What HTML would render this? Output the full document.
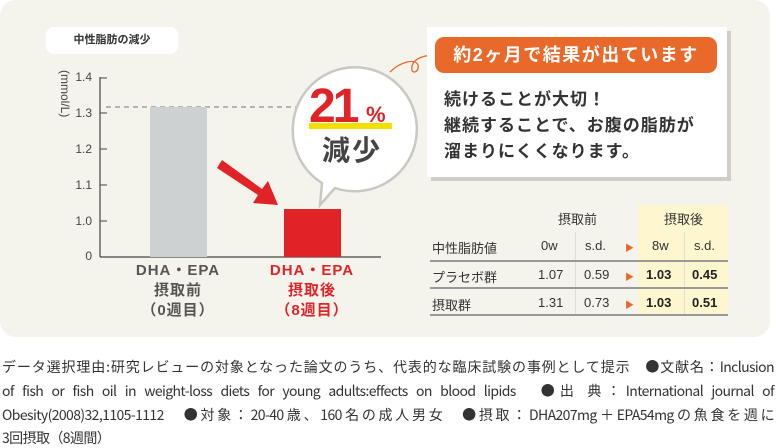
<!DOCTYPE html>
<html><head><meta charset="utf-8"><style>
body{margin:0;width:776px;height:446px;background:#fff;overflow:hidden;font-family:"Liberation Sans","Noto Sans CJK JP",sans-serif;position:relative}
.a{position:absolute}
.panel{left:0;top:0;width:770px;height:337px;background:#f4f3ec;border-radius:16px}
.tk{font-size:12px;color:#444;width:30px;text-align:right;left:62px}
.xl{font-size:15px;font-weight:bold;text-align:center;line-height:20px;width:120px;letter-spacing:1px}
.ft{left:2px;width:772px;font-family:"Liberation Sans Narrow","Noto Sans CJK JP",sans-serif;font-size:14px;color:#333;text-align:justify;text-align-last:justify;white-space:nowrap;letter-spacing:-0.6px}
</style></head><body>
<div class="a panel"></div>
<div class="a" style="left:46px;top:27px;width:132px;height:27px;background:#fff;border-radius:8px;font-size:11px;font-weight:bold;color:#333;line-height:27px;text-align:center">中性脂肪の減少</div>
<svg class="a" style="left:0;top:0" width="776" height="340">
<line x1="100" y1="77" x2="100" y2="257" stroke="#444" stroke-width="1.2"/>
<line x1="100" y1="257" x2="381" y2="257" stroke="#444" stroke-width="1.2"/>
<g stroke="#444"><line x1="100" y1="78" x2="107" y2="78"/><line x1="100" y1="113" x2="107" y2="113"/><line x1="100" y1="149" x2="107" y2="149"/><line x1="100" y1="185" x2="107" y2="185"/><line x1="100" y1="221" x2="107" y2="221"/></g>
<line x1="106" y1="107" x2="300" y2="107" stroke="#777" stroke-dasharray="5,4"/>
<rect x="150" y="107" width="57" height="150" fill="#cdd1d2"/>
<rect x="284" y="209" width="57" height="48" fill="#e02327"/>
<polygon points="217,168 222,160 262,189 268,181 278,205 253,203 258,195" fill="#e02327"/>
<path d="M390,72 C400,62 415,58 418,65 C420,72 410,76 412,66 C414,58 425,55 436,55" fill="none" stroke="#e8692a" stroke-width="1.3"/>
<path d="M293,125 A62,62 0 1 1 335,188 L320,205 L322,183 A62,62 0 0 1 293,125Z" fill="#fff" stroke="#c9c8c2" stroke-width="2.5"/>
<rect x="309" y="123" width="83" height="6" fill="#f4e000"/>
<text x="309" y="122" font-size="48" font-weight="bold" fill="#e02327" font-family="Liberation Sans,sans-serif" letter-spacing="-3">21</text>
<text x="366" y="122" font-size="22" font-weight="bold" fill="#e02327" font-family="Liberation Sans,sans-serif">%</text>
<text x="322" y="160" font-size="28" font-weight="bold" fill="#444" font-family="Liberation Sans,Noto Sans CJK JP,sans-serif" letter-spacing="2">減少</text>
<rect x="431" y="31" width="300" height="150" fill="#cfcdc6"/>
<rect x="427" y="27" width="300" height="150" fill="#fff"/>
<rect x="435" y="37" width="282" height="36" rx="9" fill="#e8692a"/>
</svg>
<div class="a" style="top:70px;transform:rotate(90deg);transform-origin:0 0;font-size:12px;color:#444;white-space:nowrap;left:72px">(mmol/L)</div>
<div class="a tk" style="top:70px">1.4</div>
<div class="a tk" style="top:106px">1.3</div>
<div class="a tk" style="top:142px">1.2</div>
<div class="a tk" style="top:178px">1.1</div>
<div class="a tk" style="top:214px">1.0</div>
<div class="a tk" style="top:249px">0</div>
<div class="a xl" style="left:118px;top:261px;color:#555">DHA・EPA<br>摂取前<br>（0週目）</div>
<div class="a xl" style="left:252px;top:261px;color:#e02327">DHA・EPA<br>摂取後<br>（8週目）</div>
<div class="a" style="left:435px;top:37px;width:282px;height:36px;line-height:36px;text-align:center;color:#fff;font-size:18px;font-weight:bold;letter-spacing:1.5px">約2ヶ月で結果が出ています</div>
<div class="a" style="left:444px;top:87px;font-size:17px;font-weight:bold;color:#333;line-height:26px;letter-spacing:1px">続けることが大切！<br>継続することで、お腹の脂肪が<br>溜まりにくくなります。</div>
<div class="a" style="left:638px;top:205px;width:90px;height:110px;background:#fdf6cf"></div>
<div class="a" style="left:575px;top:232px;width:1px;height:83px;background:#ddd"></div>
<div class="a" style="left:684px;top:232px;width:1px;height:83px;background:#ddd"></div>
<div class="a" style="left:430px;top:260px;width:298px;height:2px;background:#999"></div>
<div class="a" style="left:430px;top:287px;width:298px;height:2px;background:#999"></div>
<div class="a" style="left:430px;top:314px;width:298px;height:2px;background:#999"></div>
<div class="a" style="left:550px;top:209px;width:55px;text-align:center;font-size:13px;color:#333">摂取前</div>
<div class="a" style="left:656px;top:209px;width:55px;text-align:center;font-size:13px;color:#333">摂取後</div>
<div class="a" style="font-size:13px;color:#333;top:238px;left:432px">中性脂肪値</div>
<div class="a" style="font-size:13px;color:#333;top:238px;left:541px">0w</div>
<div class="a" style="font-size:13px;color:#333;top:238px;left:585px">s.d.</div>
<div class="a" style="font-size:13px;color:#333;top:238px;left:652px">8w</div>
<div class="a" style="font-size:13px;color:#333;top:238px;left:694px">s.d.</div>
<div class="a" style="font-size:13px;color:#333;top:267px;left:432px">プラセボ群</div>
<div class="a" style="font-size:13px;color:#333;top:267px;left:538px">1.07</div>
<div class="a" style="font-size:13px;color:#333;top:267px;left:584px">0.59</div>
<div class="a" style="font-size:13px;color:#222;font-weight:bold;top:267px;left:646px">1.03</div>
<div class="a" style="font-size:13px;color:#222;font-weight:bold;top:267px;left:692px">0.45</div>
<div class="a" style="font-size:13px;color:#333;top:295px;left:432px">摂取群</div>
<div class="a" style="font-size:13px;color:#333;top:295px;left:538px">1.31</div>
<div class="a" style="font-size:13px;color:#333;top:295px;left:584px">0.73</div>
<div class="a" style="font-size:13px;color:#222;font-weight:bold;top:295px;left:646px">1.03</div>
<div class="a" style="font-size:13px;color:#222;font-weight:bold;top:295px;left:692px">0.51</div>
<div class="a" style="font-size:9px;color:#e8692a;top:241px;left:625px">▶</div>
<div class="a" style="font-size:9px;color:#e8692a;top:270px;left:625px">▶</div>
<div class="a" style="font-size:9px;color:#e8692a;top:298px;left:625px">▶</div>
<div class="a ft" style="top:357px">データ選択理由:研究レビューの対象となった論文のうち、代表的な臨床試験の事例として提示　●文献名：Inclusion</div>
<div class="a ft" style="top:381px">of fish or fish oil in weight-loss diets for young adults:effects on blood lipids　●出 典：International journal of</div>
<div class="a ft" style="top:405px">Obesity(2008)32,1105-1112　●対象：20-40歳、160名の成人男女　●摂取：DHA207mg＋EPA54mgの魚食を週に</div>
<div class="a ft" style="top:428px;text-align-last:left">3回摂取（8週間）</div>
</body></html>
